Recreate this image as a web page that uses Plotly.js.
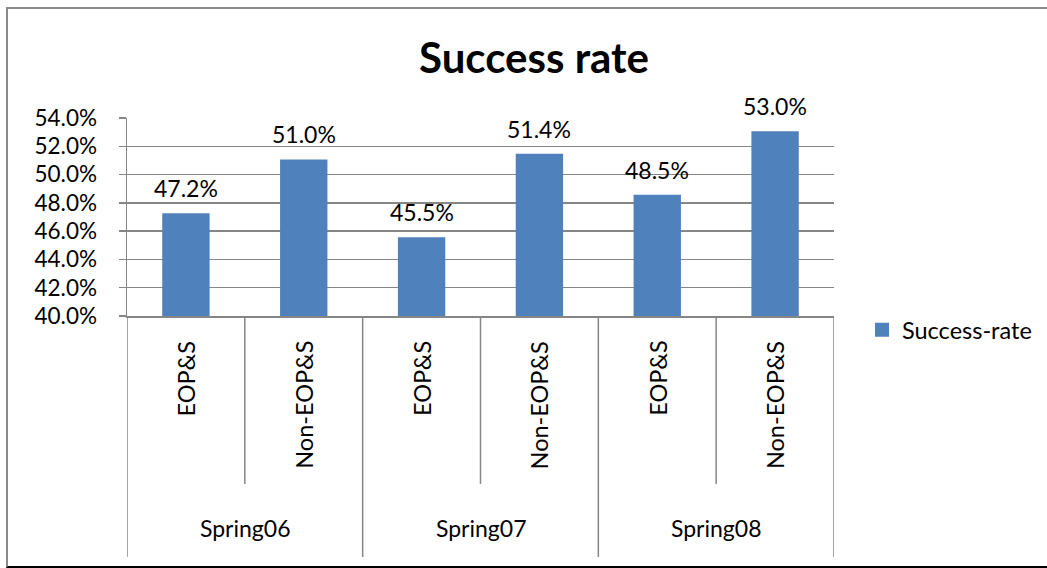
<!DOCTYPE html>
<html>
<head>
<meta charset="utf-8">
<script src="https://cdn.plot.ly/plotly-3.0.1.min.js"></script>
<style>
  html, body { margin: 0; padding: 0; background: #fff; }
  #chart { width: 1047px; height: 568px; }
  #frame { position: absolute; left: 6px; top: 7px; width: 1100px; height: 557px;
           border-left: 2px solid #8a8a8a; border-top: 2px solid #8a8a8a; border-bottom: 2px solid #000;
           pointer-events: none; }
</style>
</head>
<body>
<div id="chart"></div>
<div id="frame"></div>
<script>
const groups = ['Spring06', 'Spring07', 'Spring08'];
const subcats = ['EOP&S', 'Non-EOP&S'];
const rates = [47.2, 51.0, 45.5, 51.4, 48.5, 53.0];
const yTickVals = [40, 42, 44, 46, 48, 50, 52, 54];
const seriesName = 'Success-rate';

const W = 1047, H = 568;
const L = 127, R = 834, T = 118, B = 316;
const ph = B - T;
const py = p => (B - p) / ph;   // pixel row -> paper y

const cats = [];
groups.forEach(g => subcats.forEach(s => cats.push(g + ' ' + s)));

const FONT = 'Lato, "Open Sans", sans-serif';
const grey = '#868686';
const barColor = '#4F81BD';

const annotations = [];
const shapes = [];

// data labels
cats.forEach((c, i) => {
  annotations.push({
    x: c, y: rates[i], xref: 'x', yref: 'y', yanchor: 'bottom', yshift: 10,
    text: rates[i].toFixed(1) + '%', showarrow: false,
    font: {family: FONT, size: 23, color: '#000'}
  });
});
// subcategory labels (rotated)
cats.forEach((c, i) => {
  annotations.push({
    x: c, y: py(339), xref: 'x', yref: 'paper', yanchor: 'top', xanchor: 'center',
    text: subcats[i % subcats.length], textangle: -90, showarrow: false,
    font: {family: FONT, size: 23.5, color: '#000'}
  });
});
// group labels
groups.forEach((g, gi) => {
  const mid = gi * subcats.length + (subcats.length - 1) / 2;
  annotations.push({
    x: mid, y: py(528), xref: 'x', yref: 'paper', yanchor: 'middle', xanchor: 'center',
    text: g, showarrow: false,
    font: {family: FONT, size: 23, color: '#000'}
  });
});
// dividers
for (let k = 0; k <= cats.length; k++) {
  const isGroup = k % subcats.length === 0;
  shapes.push({
    type: 'line', xref: 'x', yref: 'paper',
    x0: k - 0.5, x1: k - 0.5, y0: 0, y1: py(isGroup ? 557 : 484),
    line: {color: grey, width: 1.5}
  });
}

const trace = {
  type: 'bar', x: cats, y: rates, name: seriesName,
  marker: {color: barColor, line: {color: barColor, width: 2}}, width: 0.385, showlegend: true
};

const layout = {
  width: W, height: H,
  margin: {l: L, r: W - R, t: T, b: H - B, pad: 0, autoexpand: false},
  paper_bgcolor: '#fff', plot_bgcolor: '#fff',
  title: {text: '<b>Success rate</b>', x: 0.51, xanchor: 'center', y: 1 - 58 / H, yanchor: 'middle',
          font: {family: FONT, size: 42, color: '#000'}},
  font: {family: FONT, color: '#000'},
  showlegend: true,
  legend: {x: (862 - L) / (R - L), xanchor: 'left', y: py(330), yanchor: 'middle',
           font: {family: FONT, size: 23.5, color: '#000'}, itemwidth: 30, bgcolor: 'rgba(0,0,0,0)'},
  xaxis: {type: 'category', range: [-0.5, cats.length - 0.5], showticklabels: false, ticks: '',
          showgrid: false, showline: true, linecolor: grey, linewidth: 1.5, zeroline: false, fixedrange: true},
  yaxis: {range: [40, 54], tickvals: yTickVals, ticktext: yTickVals.map(v => v.toFixed(1) + '%'),
          ticks: 'outside', ticklen: 7, tickcolor: grey, tickwidth: 1.5,
          showline: true, linecolor: grey, linewidth: 1.5, showgrid: true, gridcolor: grey, gridwidth: 1.5,
          zeroline: false, ticklabelstandoff: 17, tickfont: {family: FONT, size: 22.5, color: '#000'}, fixedrange: true},
  annotations: annotations,
  shapes: shapes,
  bargap: 0.6
};

Plotly.newPlot('chart', [trace], layout, {displayModeBar: false, staticPlot: true});
</script>
</body>
</html>
